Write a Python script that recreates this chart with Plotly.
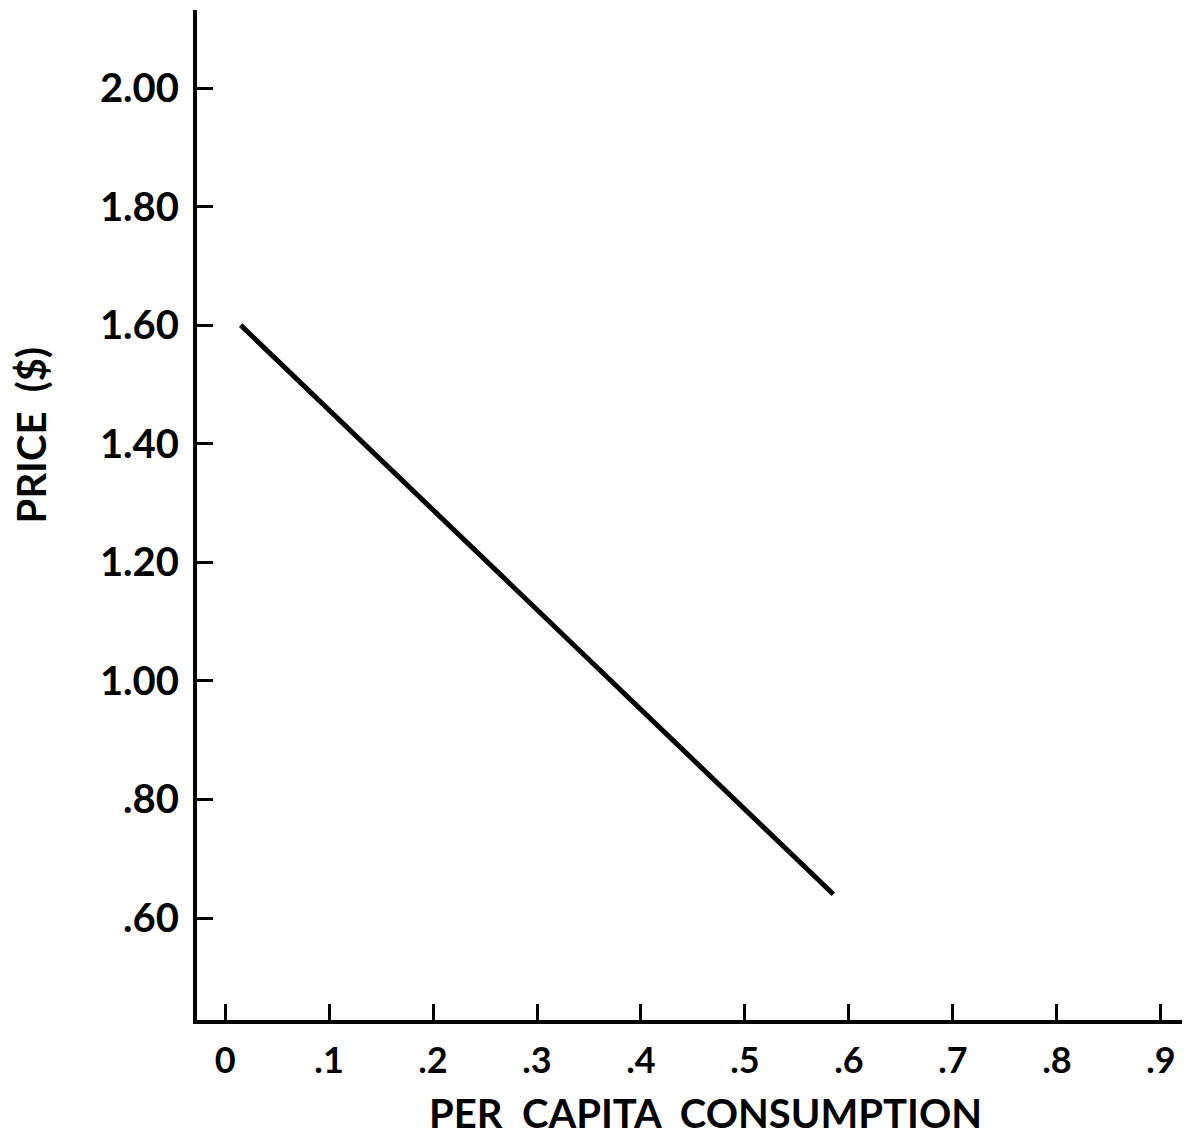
import plotly.graph_objects as go

# demand line
consumption = [0.015, 0.585]
price = [1.60, 0.64]

x_ticks = [0, 0.1, 0.2, 0.3, 0.4, 0.5, 0.6, 0.7, 0.8, 0.9]
x_labels = ["0", ".1", ".2", ".3", ".4", ".5", ".6", ".7", ".8", ".9"]
y_ticks = [0.6, 0.8, 1.0, 1.2, 1.4, 1.6, 1.8, 2.0]
y_labels = [".60", ".80", "1.00", "1.20", "1.40", "1.60", "1.80", "2.00"]

FONT = "Lato"
INK = "#000000"

fig = go.Figure()
fig.add_trace(go.Scatter(
    x=consumption,
    y=price,
    mode="lines",
    line=dict(color=INK, width=5),
    showlegend=False,
    hoverinfo="skip",
))

fig.update_xaxes(
    range=[-0.027, 0.928],
    tickvals=x_ticks,
    ticktext=[f"<b>{t}</b>" for t in x_labels],
    ticks="inside", ticklen=16, tickwidth=3, tickcolor=INK,
    showline=True, linewidth=4, linecolor=INK,
    showgrid=False, zeroline=False,
    tickfont=dict(family=FONT, size=36, color=INK),
    ticklabelstandoff=6,
)
fig.update_yaxes(
    range=[0.428, 2.1316],
    tickvals=y_ticks,
    ticktext=[f"<b>{t}</b>" for t in y_labels],
    ticks="inside", ticklen=16, tickwidth=3, tickcolor=INK,
    showline=True, linewidth=4, linecolor=INK,
    showgrid=False, zeroline=False,
    tickfont=dict(family=FONT, size=40, color=INK),
    ticklabelstandoff=6,
)

fig.add_annotation(
    text="<b>PER  CAPITA  CONSUMPTION</b>",
    xref="paper", yref="paper", x=0.5116, y=-0.092,
    xanchor="center", yanchor="middle", showarrow=False,
    font=dict(family=FONT, size=40, color=INK),
)
fig.add_annotation(
    text="<b>PRICE  ($)</b>",
    xref="paper", yref="paper", x=-0.167, y=0.579,
    xanchor="center", yanchor="middle", showarrow=False, textangle=-90,
    font=dict(family=FONT, size=40, color=INK),
)

# page adds an 8px body margin, so the figure is 8px smaller each way
fig.update_layout(
    width=1182, height=1129,
    margin=dict(l=189, r=0, t=2, b=117),
    paper_bgcolor="white", plot_bgcolor="white",
)

fig.write_html("out.html")
